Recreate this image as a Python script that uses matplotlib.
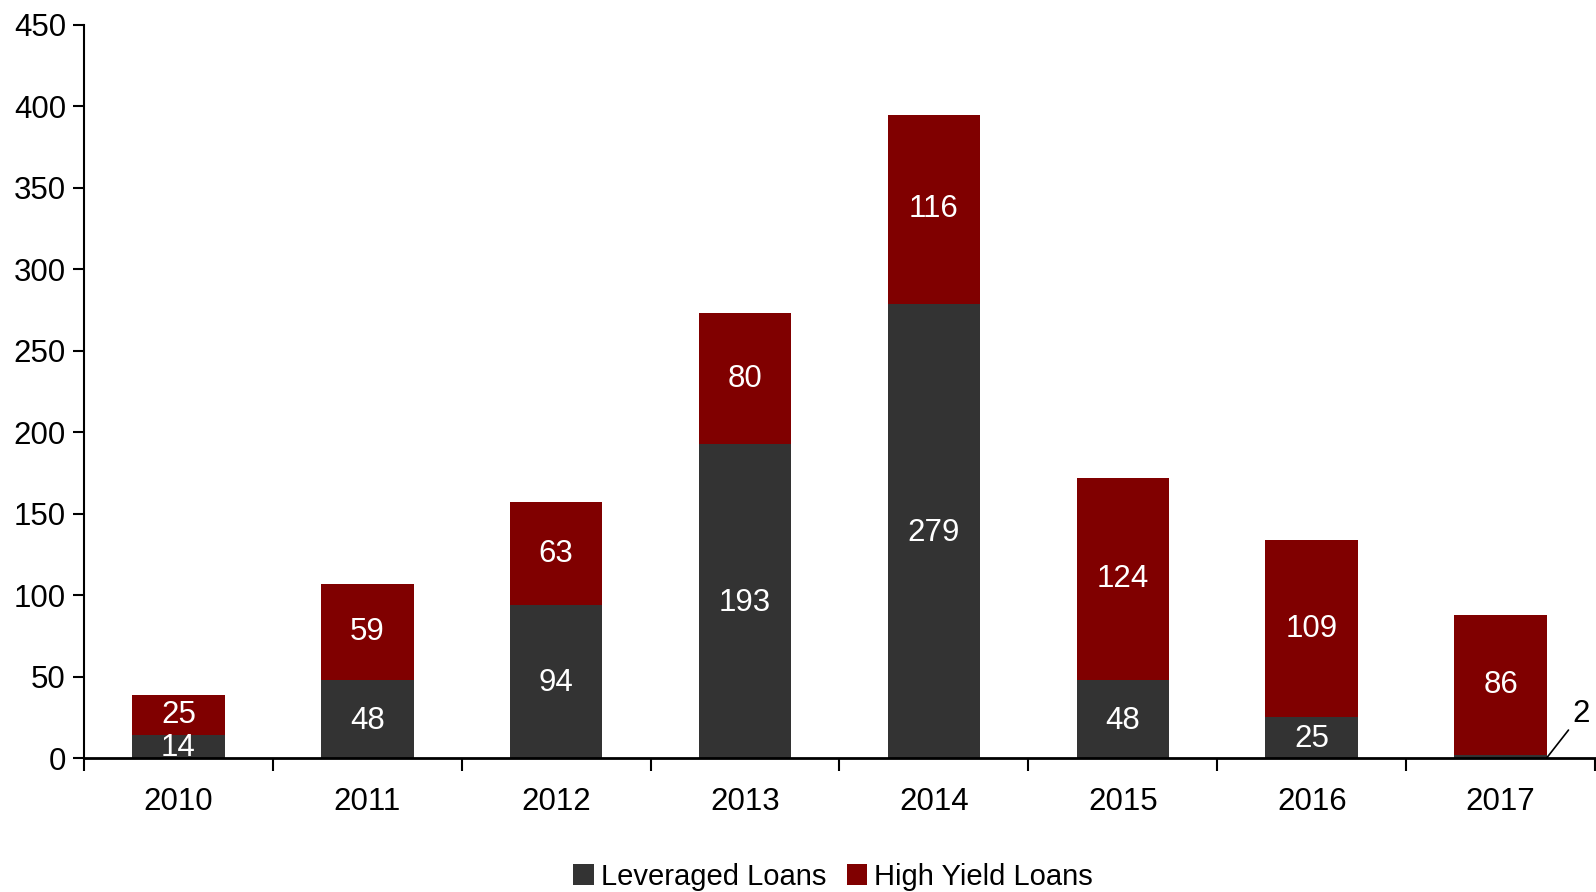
import numpy as np
import matplotlib.pyplot as plt

plt.rcParams['font.family'] = ['Liberation Sans', 'DejaVu Sans']

years = ['2010', '2011', '2012', '2013', '2014', '2015', '2016', '2017']
leveraged = [14, 48, 94, 193, 279, 48, 25, 2]
high_yield = [25, 59, 63, 80, 116, 124, 109, 86]

c_lev = '#333333'
c_hy = '#800000'
fs = 22.5

fig = plt.figure(figsize=(15.96, 8.92), dpi=100)
ax = fig.add_axes([0.0526, 0.150, 0.9468, 0.822])

x = np.arange(len(years))
w = 0.49
ax.bar(x, leveraged, w, color=c_lev, label='Leveraged Loans')
ax.bar(x, high_yield, w, bottom=leveraged, color=c_hy, label='High Yield Loans')

# value labels inside segments
for i in range(len(years)):
    if leveraged[i] >= 10:
        ax.text(x[i], leveraged[i] / 2 - 1, str(leveraged[i]), ha='center', va='center',
                color='white', fontsize=fs)
    ax.text(x[i], leveraged[i] + high_yield[i] / 2, str(high_yield[i]), ha='center',
            va='center', color='white', fontsize=fs)

# small segment gets a leader line
i = len(years) - 1
ax.annotate(str(leveraged[i]), xy=(x[i] + w / 2, 0.3),
            xytext=(x[i] + w / 2 + 0.18, 27), fontsize=fs, ha='center', va='center',
            arrowprops=dict(arrowstyle='-', color='black', lw=1.2,
                            shrinkA=1, shrinkB=0))

ax.set_xlim(-0.5, len(years) - 0.5)
ax.set_ylim(0, 450)
ax.set_yticks(np.arange(0, 451, 50))
ax.set_xticks(x)
ax.set_xticklabels(years)
ax.set_xticks(np.arange(-0.5, len(years), 1), minor=True)
ax.tick_params(axis='x', which='major', length=0, pad=21, labelsize=fs)
ax.tick_params(axis='x', which='minor', length=9, width=1.5, direction='out')
ax.tick_params(axis='y', length=8, width=1.5, direction='out', labelsize=fs, pad=5)

for s in ['top', 'right']:
    ax.spines[s].set_visible(False)
ax.spines['left'].set_linewidth(1.5)
ax.spines['bottom'].set_linewidth(2)

fig.legend(loc='center', bbox_to_anchor=(0.522, 0.017), ncol=2, frameon=False,
           fontsize=21, handlelength=0.7, handleheight=0.7, handletextpad=0.25,
           columnspacing=0.7, borderpad=0)

fig.savefig('out.png', dpi=100)
